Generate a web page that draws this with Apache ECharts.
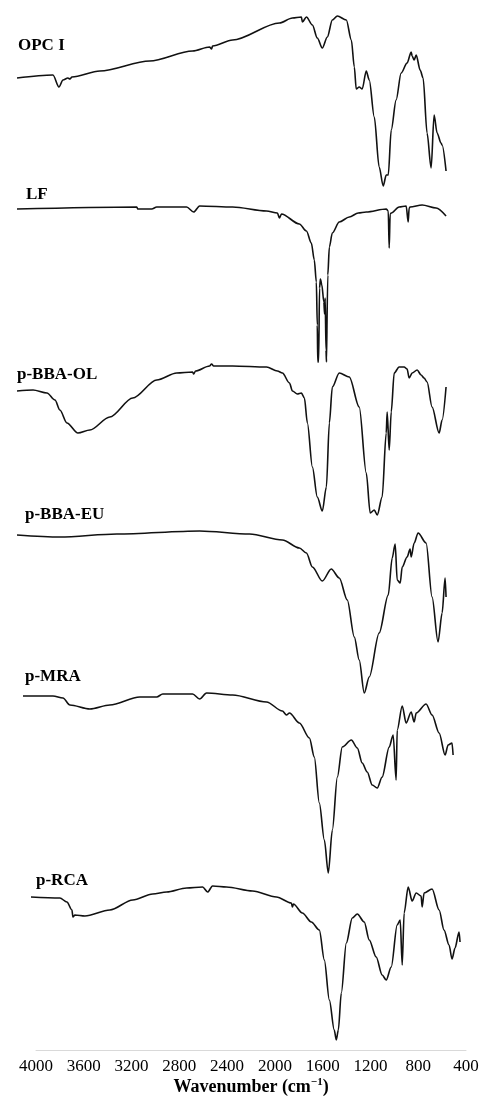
<!DOCTYPE html>
<html>
<head>
<meta charset="utf-8">
<script src="https://cdn.jsdelivr.net/npm/echarts@6/dist/echarts.min.js"></script>
<style>html,body{margin:0;padding:0;background:#fff}#c{width:481px;height:1099px}</style>
</head>
<body>
<div id="c"></div>
<script>
// Sample names (top to bottom)
const sampleNames = ['OPC I', 'LF', 'p-BBA-OL', 'p-BBA-EU', 'p-MRA', 'p-RCA'];
// x-axis ticks (wavenumber, cm-1)
const tickMin = 400, tickMax = 4000, tickStep = 400;
// the recorded spectra begin a little above the labelled axis end
const dataMax = 4160;

// Each spectrum: [wavenumber (cm-1), stacked transmittance (a.u.)]
const OPC_I = [[4159,972],[3858,975],[3808,963],[3774,970],[3733,972],[3716,971],[3699,973],[3465,979],[3048,989],[2689,999],[2547,1003],[2530,1001],[2522,1004],[2354,1010],[1962,1027],[1853,1032],[1778,1033],[1770,1028],[1736,1033],[1686,1025],[1645,1012],[1603,1002],[1561,1013],[1519,1030],[1477,1034],[1402,1030],[1360,1010],[1335,983],[1319,961],[1294,963],[1269,961],[1235,979],[1210,970],[1168,933],[1127,883],[1093,864],[1068,875],[1051,875],[1026,920],[985,950],[943,977],[893,987],[859,998],[851,994],[834,990],[817,995],[784,980],[759,972],[726,917],[692,882],[667,935],[642,917],[609,907],[600,905],[567,879]];
const LF = [[4159,841],[3156,843],[3148,841],[3031,841],[2989,843],[2739,843],[2680,838],[2630,844],[2354,843],[2070,839],[1979,837],[1962,832],[1945,836],[1795,826],[1736,819],[1695,807],[1670,790],[1653,768],[1645,725],[1641,688],[1634,688],[1626,762],[1619,771],[1607,765],[1590,748],[1584,736],[1579,752],[1572,700],[1568,688],[1563,688],[1557,775],[1544,803],[1519,817],[1461,828],[1377,833],[1302,837],[1235,838],[1068,841],[1051,839],[1043,802],[1035,836],[1026,837],[960,843],[901,844],[884,828],[876,842],[868,843],[767,845],[650,842],[567,834]];
const P_BBA_OL = [[4159,659],[4025,660],[3908,657],[3841,650],[3800,640],[3741,627],[3649,617],[3549,620],[3382,633],[3190,652],[2989,670],[2822,677],[2689,678],[2680,676],[2664,679],[2547,684],[2530,686],[2513,684],[2354,684],[2070,683],[1979,679],[1937,677],[1878,667],[1853,659],[1812,656],[1778,657],[1753,652],[1728,627],[1686,583],[1645,553],[1603,539],[1569,563],[1544,627],[1519,663],[1461,677],[1377,673],[1294,643],[1235,577],[1202,537],[1168,540],[1143,535],[1102,553],[1068,617],[1060,638],[1043,600],[1026,638],[1001,677],[960,683],[918,683],[893,681],[876,672],[851,677],[809,680],[776,675],[751,672],[726,668],[684,643],[625,617],[600,630],[567,663]];
const P_BBA_EU = [[4159,515],[3800,513],[3323,516],[2630,519],[2212,516],[1937,510],[1795,502],[1736,497],[1686,483],[1603,469],[1528,481],[1461,472],[1394,450],[1335,413],[1294,390],[1252,357],[1210,373],[1127,417],[1051,455],[1018,492],[993,506],[976,470],[951,467],[934,483],[893,493],[868,501],[859,493],[834,507],[801,517],[734,507],[684,453],[634,408],[600,437],[575,472],[567,453]];
const P_MRA = [[4109,354],[3858,354],[3774,352],[3716,345],[3549,341],[3382,345],[3131,353],[2989,353],[2939,356],[2689,356],[2630,351],[2572,357],[2354,355],[2070,348],[1937,339],[1903,335],[1878,337],[1795,327],[1711,312],[1670,293],[1628,247],[1586,210],[1553,177],[1519,220],[1477,273],[1436,303],[1360,310],[1310,302],[1269,287],[1227,278],[1185,265],[1143,262],[1102,273],[1043,303],[1010,315],[985,270],[976,320],[934,344],[901,327],[859,338],[834,328],[817,337],[734,346],[684,335],[625,317],[575,295],[550,305],[517,307],[508,295]];
const P_RCA = [[4042,153],[3800,152],[3741,148],[3699,140],[3691,133],[3674,135],[3591,134],[3382,140],[3190,150],[3023,156],[2906,158],[2739,162],[2605,163],[2563,158],[2522,164],[2405,163],[2187,159],[1987,153],[1862,147],[1853,143],[1845,146],[1770,137],[1695,128],[1628,120],[1586,90],[1544,50],[1503,20],[1486,10],[1469,20],[1444,57],[1402,107],[1352,132],[1310,136],[1252,128],[1210,110],[1152,93],[1102,75],[1068,70],[1026,83],[976,125],[951,130],[934,85],[918,137],[884,163],[851,149],[817,157],[776,154],[767,143],[751,157],[684,161],[625,140],[584,120],[542,105],[517,91],[492,102],[458,118],[450,108]];

const spectra = [OPC_I, LF, P_BBA_OL, P_BBA_EU, P_MRA, P_RCA];
// label anchor (left x, cap-centre y) for each sample name
const labelPos = [[18,46],[26,195],[17,375],[25,515],[25,677],[36,881]];

const W = 481, H = 1099;
const axisLeft = 36, axisRight = 15, plotBottom = 49;
const pxPerUnit = (W - axisLeft - axisRight) / (tickMax - tickMin);
const dataLeft = axisLeft - (dataMax - tickMax) * pxPerUnit;

const chart = echarts.init(document.getElementById('c'), null, {renderer: 'canvas'});
const serif = '"Liberation Serif", "Times New Roman", serif';

chart.setOption({
  animation: false,
  backgroundColor: '#ffffff',
  grid: [
    {left: axisLeft, right: axisRight, top: 0, bottom: plotBottom, containLabel: false, outerBoundsMode: 'none'},
    {left: dataLeft, right: axisRight, top: 0, bottom: plotBottom, containLabel: false, outerBoundsMode: 'none'}
  ],
  xAxis: [{
    gridIndex: 0, type: 'value', min: tickMin, max: tickMax, interval: tickStep, inverse: true,
    axisLine: {show: true, lineStyle: {color: '#d9d9d9', width: 1}},
    axisTick: {show: false}, splitLine: {show: false},
    axisLabel: {color: '#000', fontFamily: serif, fontSize: 17, margin: 8,
      showMinLabel: true, showMaxLabel: true, formatter: v => String(v)},
    name: '{a|Wavenumber (cm}{s|−1}{a|)}',
    nameLocation: 'middle', nameGap: 27, nameMoveOverlap: false,
    nameTextStyle: {
      rich: {
        a: {fontFamily: serif, fontSize: 18, fontWeight: 'bold', color: '#000', lineHeight: 20},
        s: {fontFamily: serif, fontSize: 11, fontWeight: 'bold', color: '#000', lineHeight: 12, verticalAlign: 'top'}
      }
    }
  }, {
    gridIndex: 1, type: 'value', min: tickMin, max: dataMax, inverse: true, show: false
  }],
  yAxis: [
    {gridIndex: 0, type: 'value', min: 0, max: 1050, show: false},
    {gridIndex: 1, type: 'value', min: 0, max: 1050, show: false}
  ],
  series: spectra.map((d, i) => ({
    name: sampleNames[i], type: 'line', data: d, xAxisIndex: 1, yAxisIndex: 1,
    showSymbol: false, clip: false,
    smooth: 0.3, smoothMonotone: 'x',
    lineStyle: {color: '#111', width: 1.6}
  })),
  graphic: sampleNames.map((n, i) => ({
    type: 'text', left: labelPos[i][0], top: labelPos[i][1] - 9,
    style: {text: n, font: 'bold 17px ' + serif, fill: '#000', textVerticalAlign: 'top'}
  }))
});
</script>
</body>
</html>
